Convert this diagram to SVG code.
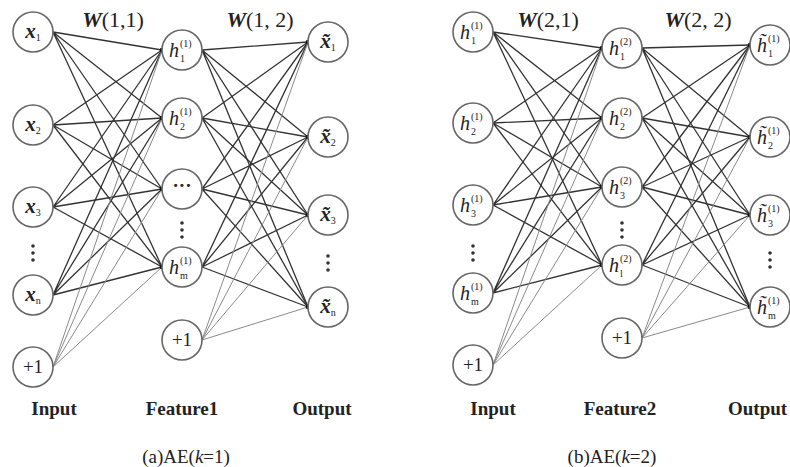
<svg xmlns="http://www.w3.org/2000/svg" width="790" height="467" viewBox="0 0 790 467">
<style>
.nd{fill:#fff;stroke:#666;stroke-width:1.6}
.e{stroke:#333;stroke-width:1.3;fill:none}
.e2{stroke:#8a8a8a;stroke-width:1;fill:none}
.tip{fill:#111}
.dt{fill:#333}
text{font-family:"Liberation Serif","Times New Roman","DejaVu Serif",serif;fill:#222}
.v{font-style:italic;font-weight:bold;font-size:21px;text-anchor:middle}
.h{font-style:italic;font-size:20px}
.s{font-size:10px;font-style:normal;font-weight:normal}
.p{font-size:19px;text-anchor:middle}
.lab{font-weight:bold;font-size:19px;text-anchor:middle}
.cap{font-size:19px;text-anchor:middle}
.w{font-size:22px;text-anchor:middle}
</style>
<g id="connectors">
<path class="e" d="M53 32L162 50M53 32L162 118M53 32L162 189M53 32L162 267"/>
<path class="e" d="M53 125L162 50M53 125L162 118M53 125L162 189M53 125L162 267"/>
<path class="e" d="M53 207L162 50M53 207L162 118M53 207L162 189M53 207L162 267"/>
<path class="e" d="M53 295L162 50M53 295L162 118M53 295L162 189M53 295L162 267"/>
<path class="e2" d="M53 367L162 50M53 367L162 118M53 367L162 189M53 367L162 267"/>
<path class="e" d="M202 50L308 42M202 50L308 137M202 50L308 215M202 50L308 307"/>
<path class="e" d="M202 118L308 42M202 118L308 137M202 118L308 215M202 118L308 307"/>
<path class="e" d="M202 189L308 42M202 189L308 137M202 189L308 215M202 189L308 307"/>
<path class="e" d="M202 267L308 42M202 267L308 137M202 267L308 215M202 267L308 307"/>
<path class="e2" d="M202 340L308 42M202 340L308 137M202 340L308 215M202 340L308 307"/>
<path class="e" d="M493 32L602 48M493 32L602 118M493 32L602 187M493 32L602 265"/>
<path class="e" d="M493 123L602 48M493 123L602 118M493 123L602 187M493 123L602 265"/>
<path class="e" d="M493 205L602 48M493 205L602 118M493 205L602 187M493 205L602 265"/>
<path class="e" d="M493 293L602 48M493 293L602 118M493 293L602 187M493 293L602 265"/>
<path class="e2" d="M493 365L602 48M493 365L602 118M493 365L602 187M493 365L602 265"/>
<path class="e" d="M642 48L750 45M642 48L750 137M642 48L750 215M642 48L750 307"/>
<path class="e" d="M642 118L750 45M642 118L750 137M642 118L750 215M642 118L750 307"/>
<path class="e" d="M642 187L750 45M642 187L750 137M642 187L750 215M642 187L750 307"/>
<path class="e" d="M642 265L750 45M642 265L750 137M642 265L750 215M642 265L750 307"/>
<path class="e2" d="M642 338L750 45M642 338L750 137M642 338L750 215M642 338L750 307"/>
<g class="tip">
<circle cx="162" cy="50" r="2.3"/><circle cx="162" cy="118" r="2.3"/><circle cx="162" cy="189" r="2.3"/><circle cx="162" cy="267" r="2.3"/>
<circle cx="308" cy="42" r="2.3"/><circle cx="308" cy="137" r="2.3"/><circle cx="308" cy="215" r="2.3"/><circle cx="308" cy="307" r="2.3"/>
<circle cx="602" cy="48" r="2.3"/><circle cx="602" cy="118" r="2.3"/><circle cx="602" cy="187" r="2.3"/><circle cx="602" cy="265" r="2.3"/>
<circle cx="750" cy="45" r="2.3"/><circle cx="750" cy="137" r="2.3"/><circle cx="750" cy="215" r="2.3"/><circle cx="750" cy="307" r="2.3"/>
</g>
</g>
<!-- Left: input -->
<g id="a_x1"><circle class="nd" cx="33" cy="32" r="20"/><text class="v" x="33" y="38">x<tspan class="s" dy="3">1</tspan></text></g>
<g id="a_x2"><circle class="nd" cx="33" cy="125" r="20"/><text class="v" x="33" y="131">x<tspan class="s" dy="3">2</tspan></text></g>
<g id="a_x3"><circle class="nd" cx="33" cy="207" r="20"/><text class="v" x="33" y="213">x<tspan class="s" dy="3">3</tspan></text></g>
<g id="a_xn"><circle class="nd" cx="33" cy="295" r="20"/><text class="v" x="33" y="301">x<tspan class="s" dy="3">n</tspan></text></g>
<g id="a_b1"><circle class="nd" cx="33" cy="367" r="20"/><text class="p" x="33" y="373">+1</text></g>
<g id="a_vd1" class="dt"><circle cx="33" cy="246" r="1.8"/><circle cx="33" cy="253" r="1.8"/><circle cx="33" cy="260" r="1.8"/></g>
<!-- Left: feature -->
<g id="a_h1"><circle class="nd" cx="182" cy="50" r="20"/><text class="h" x="169" y="57">h</text><text class="s" x="180" y="47">(1)</text><text class="s" x="180" y="62">1</text></g>
<g id="a_h2"><circle class="nd" cx="182" cy="118" r="20"/><text class="h" x="169" y="125">h</text><text class="s" x="180" y="115">(1)</text><text class="s" x="180" y="130">2</text></g>
<g id="a_hd"><circle class="nd" cx="182" cy="189" r="20"/><text class="p" x="182" y="192" style="font-weight:bold">···</text></g>
<g id="a_hm"><circle class="nd" cx="182" cy="267" r="20"/><text class="h" x="169" y="274">h</text><text class="s" x="180" y="264">(1)</text><text class="s" x="180" y="279">m</text></g>
<g id="a_fb1"><circle class="nd" cx="182" cy="340" r="20"/><text class="p" x="182" y="346">+1</text></g>
<g id="a_vd2" class="dt"><circle cx="182" cy="223" r="1.8"/><circle cx="182" cy="230" r="1.8"/><circle cx="182" cy="237" r="1.8"/></g>
<!-- Left: output -->
<g id="a_o1"><circle class="nd" cx="328" cy="42" r="20"/><text class="v" x="328" y="48">x̃<tspan class="s" dy="3">1</tspan></text></g>
<g id="a_o2"><circle class="nd" cx="328" cy="137" r="20"/><text class="v" x="328" y="143">x̃<tspan class="s" dy="3">2</tspan></text></g>
<g id="a_o3"><circle class="nd" cx="328" cy="215" r="20"/><text class="v" x="328" y="221">x̃<tspan class="s" dy="3">3</tspan></text></g>
<g id="a_on"><circle class="nd" cx="328" cy="307" r="20"/><text class="v" x="328" y="313">x̃<tspan class="s" dy="3">n</tspan></text></g>
<g id="a_vd3" class="dt"><circle cx="328" cy="256" r="1.8"/><circle cx="328" cy="263" r="1.8"/><circle cx="328" cy="270" r="1.8"/></g>
<!-- Right: input -->
<g id="b_i1"><circle class="nd" cx="473" cy="32" r="20"/><text class="h" x="460" y="39">h</text><text class="s" x="471" y="29">(1)</text><text class="s" x="471" y="44">1</text></g>
<g id="b_i2"><circle class="nd" cx="473" cy="123" r="20"/><text class="h" x="460" y="130">h</text><text class="s" x="471" y="120">(1)</text><text class="s" x="471" y="135">2</text></g>
<g id="b_i3"><circle class="nd" cx="473" cy="205" r="20"/><text class="h" x="460" y="212">h</text><text class="s" x="471" y="202">(1)</text><text class="s" x="471" y="217">3</text></g>
<g id="b_im"><circle class="nd" cx="473" cy="293" r="20"/><text class="h" x="460" y="300">h</text><text class="s" x="471" y="290">(1)</text><text class="s" x="471" y="305">m</text></g>
<g id="b_b1"><circle class="nd" cx="473" cy="365" r="20"/><text class="p" x="473" y="371">+1</text></g>
<g id="b_vd1" class="dt"><circle cx="473" cy="246" r="1.8"/><circle cx="473" cy="253" r="1.8"/><circle cx="473" cy="260" r="1.8"/></g>
<!-- Right: feature -->
<g id="b_h1"><circle class="nd" cx="622" cy="48" r="20"/><text class="h" x="609" y="55">h</text><text class="s" x="620" y="45">(2)</text><text class="s" x="620" y="60">1</text></g>
<g id="b_h2"><circle class="nd" cx="622" cy="118" r="20"/><text class="h" x="609" y="125">h</text><text class="s" x="620" y="115">(2)</text><text class="s" x="620" y="130">2</text></g>
<g id="b_h3"><circle class="nd" cx="622" cy="187" r="20"/><text class="h" x="609" y="194">h</text><text class="s" x="620" y="184">(2)</text><text class="s" x="620" y="199">3</text></g>
<g id="b_hl"><circle class="nd" cx="622" cy="265" r="20"/><text class="h" x="609" y="272">h</text><text class="s" x="620" y="262">(2)</text><text class="s" x="620" y="277">l</text></g>
<g id="b_fb1"><circle class="nd" cx="622" cy="338" r="20"/><text class="p" x="622" y="344">+1</text></g>
<g id="b_vd2" class="dt"><circle cx="622" cy="223" r="1.8"/><circle cx="622" cy="230" r="1.8"/><circle cx="622" cy="237" r="1.8"/></g>
<!-- Right: output -->
<g id="b_o1"><circle class="nd" cx="770" cy="45" r="20"/><text class="h" x="757" y="52">h̃</text><text class="s" x="768" y="42">(1)</text><text class="s" x="768" y="57">1</text></g>
<g id="b_o2"><circle class="nd" cx="770" cy="137" r="20"/><text class="h" x="757" y="144">h̃</text><text class="s" x="768" y="134">(1)</text><text class="s" x="768" y="149">2</text></g>
<g id="b_o3"><circle class="nd" cx="770" cy="215" r="20"/><text class="h" x="757" y="222">h̃</text><text class="s" x="768" y="212">(1)</text><text class="s" x="768" y="227">3</text></g>
<g id="b_om"><circle class="nd" cx="770" cy="307" r="20"/><text class="h" x="757" y="314">h̃</text><text class="s" x="768" y="304">(1)</text><text class="s" x="768" y="319">m</text></g>
<g id="b_vd3" class="dt"><circle cx="770" cy="253" r="1.8"/><circle cx="770" cy="260" r="1.8"/><circle cx="770" cy="267" r="1.8"/></g>
<!-- Weight labels -->
<text class="w" x="113" y="27"><tspan font-style="italic" font-weight="bold">W</tspan>(1,1)</text>
<text class="w" x="260" y="27"><tspan font-style="italic" font-weight="bold">W</tspan>(1, 2)</text>
<text class="w" x="548" y="27"><tspan font-style="italic" font-weight="bold">W</tspan>(2,1)</text>
<text class="w" x="698" y="27"><tspan font-style="italic" font-weight="bold">W</tspan>(2, 2)</text>
<!-- Column labels -->
<text class="lab" x="54" y="415">Input</text>
<text class="lab" x="182" y="415">Feature1</text>
<text class="lab" x="322" y="415">Output</text>
<text class="lab" x="493" y="415">Input</text>
<text class="lab" x="620" y="415">Feature2</text>
<text class="lab" x="728" y="415" style="text-anchor:start">Output</text>
<text class="cap" x="186" y="463">(a)AE(<tspan font-style="italic">k</tspan>=1)</text>
<text class="cap" x="612" y="463">(b)AE(<tspan font-style="italic">k</tspan>=2)</text>
</svg>
